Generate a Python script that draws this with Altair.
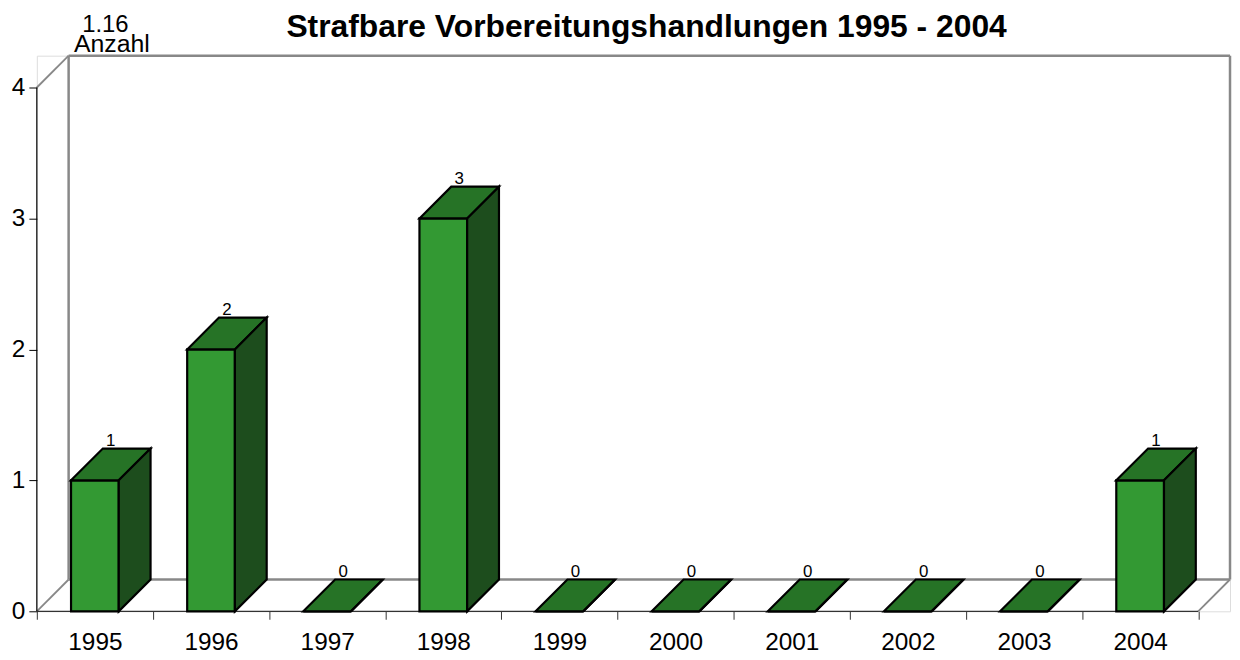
import json
import altair as alt
import pandas as pd

# ---- data ----
years = ["1995", "1996", "1997", "1998", "1999", "2000", "2001", "2002", "2003", "2004"]
values = [1, 2, 0, 3, 0, 0, 0, 0, 0, 1]
y_ticks = [0, 1, 2, 3, 4]
title_text = "Strafbare Vorbereitungshandlungen 1995 - 2004"
corner_top = "1.16"
corner_unit = "Anzahl"

# ---- geometry / style constants ----
FONT = "Liberation Sans"
SLOT_PX = 116.85
UNIT_PX = 131.75
DEPTH_PX = 32
N = len(years)
YMAX = 4
DX = DEPTH_PX / SLOT_PX
DY = DEPTH_PX / UNIT_PX
BAR_W = 48 / SLOT_PX
W = (N + DX) * SLOT_PX
H = (YMAX + DY) * UNIT_PX

C_FRONT = "#339933"
C_TOP = "#267326"
C_SIDE = "#1d4d1d"

# ---- tables built from the arrays ----
front_rows, top_rows, side_rows, lab_rows = [], [], [], []
for i, (yr, v) in enumerate(zip(years, values)):
    l = i + 0.5 - BAR_W / 2
    r = l + BAR_W
    front_rows.append({"bar": yr, "l": l, "r": r, "v": v})
    for k, (x, y, y2) in enumerate([(l, v, v), (l + DX, v + DY, v), (r, v + DY, v), (r + DX, v + DY, v + DY)]):
        top_rows.append({"bar": yr, "k": k, "x": x, "y": y, "y2": y2})
    for k, (x, y, y2) in enumerate([(r, v, 0), (r + DX, v + DY, DY)]):
        side_rows.append({"bar": yr, "k": k, "x": x, "y": y, "y2": y2})
    lab_rows.append({"bar": yr, "x": l + BAR_W / 2 + DX / 2, "y": v + DY, "t": str(v)})

front_df = pd.DataFrame(front_rows)
top_df = pd.DataFrame(top_rows)
side_df = pd.DataFrame(side_rows)
lab_df = pd.DataFrame(lab_rows)

# frame (walls / floor) segments, from domain extents
wall_segs = [
    ("backleft", [(DX, DY), (DX, YMAX + DY)]),
    ("top", [(DX, YMAX + DY), (N + DX, YMAX + DY)]),
    ("right", [(N + DX, YMAX + DY), (N + DX, DY)]),
    ("floorback", [(DX, DY), (N + DX, DY)]),
]
diag_segs = [
    ("d1", [(0, 0), (DX, DY)]),
    ("d2", [(0, YMAX), (DX, YMAX + DY)]),
    ("d3", [(N, 0), (N + DX, DY)]),
]


def seg_df(segs):
    rows = []
    for name, pts in segs:
        for k, (x, y) in enumerate(pts):
            rows.append({"seg": name, "k": k, "x": x, "y": y})
    return pd.DataFrame(rows)


wall_df = seg_df(wall_segs)
diag_df = seg_df(diag_segs)
xaxis_df = seg_df([("xa", [(0, 0), (N, 0)])])
yaxis_df = seg_df([("ya", [(0, 0), (0, YMAX)])])

xscale = alt.Scale(domain=[0, N + DX], nice=False, zero=False)
yscale = alt.Scale(domain=[0, YMAX + DY], nice=False, zero=False)

label_arr = json.dumps(years + [""])
xaxis = alt.Axis(
    values=list(range(0, N + 1)),
    labelExpr=f"{label_arr}[datum.value]",
    labelOffset=SLOT_PX / 2,
    labelAlign="center",
    tickSize=8,
    tickColor="#333333",
    domain=False,
    grid=False,
    labelFontSize=24.5,
    labelFont=FONT,
    labelColor="black",
    labelPadding=11,
    labelOverlap=False,
    title=None,
)
yaxis = alt.Axis(
    values=y_ticks,
    tickSize=8,
    tickColor="black",
    domain=False,
    grid=False,
    labelFontSize=24.5,
    labelFont=FONT,
    labelColor="black",
    labelPadding=4,
    title=None,
)


def X(f, **kw):
    return alt.X(f, scale=xscale, axis=xaxis, **kw)


def Y(f, **kw):
    return alt.Y(f, scale=yscale, axis=yaxis, **kw)


walls = alt.Chart(wall_df).mark_line(color="#888888", strokeWidth=2.5).encode(
    x=X("x:Q"), y=Y("y:Q"), detail="seg:N", order="k:Q"
)
diags = alt.Chart(diag_df).mark_line(color="#888888", strokeWidth=1.8).encode(
    x=X("x:Q"), y=Y("y:Q"), detail="seg:N", order="k:Q"
)
xline = alt.Chart(xaxis_df).mark_line(color="#333333", strokeWidth=1.2).encode(
    x=X("x:Q"), y=Y("y:Q"), detail="seg:N", order="k:Q"
)
yline = alt.Chart(yaxis_df).mark_line(color="black", strokeWidth=1.2).encode(
    x=X("x:Q"), y=Y("y:Q"), detail="seg:N", order="k:Q"
)

front = alt.Chart(front_df).mark_rect(fill=C_FRONT, stroke="black", strokeWidth=2.2).encode(
    x=X("l:Q"), x2="r:Q", y=Y("v:Q"), y2=alt.datum(0)
)
top = alt.Chart(top_df).mark_area(
    fill=C_TOP, stroke="black", strokeWidth=2.2, opacity=1, strokeJoin="miter", orient="vertical"
).encode(
    x=X("x:Q"), y=Y("y:Q", stack=None), y2="y2:Q", detail="bar:N"
)
side = alt.Chart(side_df).mark_area(
    fill=C_SIDE, stroke="black", strokeWidth=2.2, opacity=1, strokeJoin="miter", orient="vertical"
).encode(
    x=X("x:Q"), y=Y("y:Q", stack=None), y2="y2:Q", detail="bar:N"
)
labels = alt.Chart(lab_df).mark_text(
    font=FONT, fontSize=17, color="black", baseline="alphabetic", align="center", dy=-3
).encode(x=X("x:Q"), y=Y("y:Q"), text="t:N")

title_df = pd.DataFrame({"t": [title_text]})
title = alt.Chart(title_df).mark_text(
    font=FONT, fontSize=32, fontWeight="bold", color="black", baseline="alphabetic", align="center"
).encode(x=alt.value(650.5 - 37), y=alt.value(35 - 54), text="t:N")

c1 = alt.Chart(pd.DataFrame({"t": [corner_top]})).mark_text(
    font=FONT, fontSize=24, color="black", baseline="alphabetic", align="center"
).encode(x=alt.value(106 - 37), y=alt.value(30 - 54), text="t:N")
c2 = alt.Chart(pd.DataFrame({"t": [corner_unit]})).mark_text(
    font=FONT, fontSize=25, color="black", baseline="alphabetic", align="center"
).encode(x=alt.value(112.5 - 37), y=alt.value(50 - 54), text="t:N")

chart = alt.layer(
    walls, diags, xline, yline, front, top, side, labels, title, c1, c2
).properties(
    width=W, height=H,
    autosize=alt.AutoSizeParams(type="none"),
    padding={"left": 29, "top": 46, "right": 2, "bottom": 46},
).configure_view(stroke=None).configure(background="white")

chart.save("out.html", embed_options={"renderer": "svg", "actions": False})
